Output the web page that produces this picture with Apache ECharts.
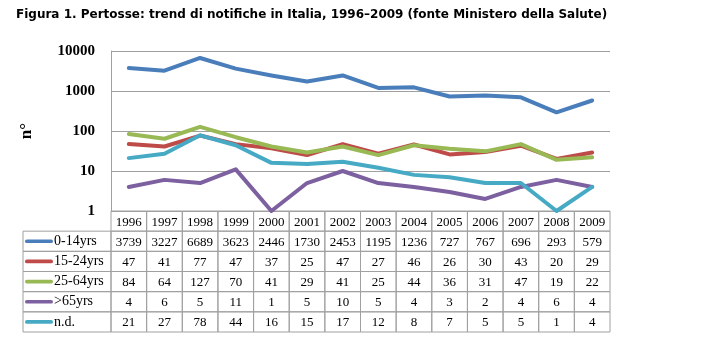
<!DOCTYPE html>
<html>
<head>
<meta charset="utf-8">
<script src="https://cdn.jsdelivr.net/npm/echarts@6/dist/echarts.min.js"></script>
<style>html,body{margin:0;padding:0;background:#fff}#c{width:723px;height:342px}</style>
</head>
<body>
<div id="c"></div>
<script>
const years = ['1996','1997','1998','1999','2000','2001','2002','2003','2004','2005','2006','2007','2008','2009'];
const s0_14 = [3739,3227,6689,3623,2446,1730,2453,1195,1236,727,767,696,293,579];
const s15_24 = [47,41,77,47,37,25,47,27,46,26,30,43,20,29];
const s25_64 = [84,64,127,70,41,29,41,25,44,36,31,47,19,22];
const s65 = [4,6,5,11,1,5,10,5,4,3,2,4,6,4];
const sND = [21,27,78,44,16,15,17,12,8,7,5,5,1,4];
const seriesNames = ['0-14yrs','15-24yrs','25-64yrs','>65yrs','n.d.'];
const seriesColors = ['#4a7ebb','#be4b48','#98b954','#7d60a0','#46aac5'];
const yMin = 1, yMax = 10000;

const allSeries = [s0_14, s15_24, s25_64, s65, sND];
const GRID_LEFT = 111, GRID_W = 499, LEGEND_LEFT = 23;
const TABLE_TOP = 211, TABLE_H = 121, ROW_H = TABLE_H / 6;
const SERIF = '"Liberation Serif", "Times New Roman", serif';

const tableData = [];
years.forEach((y, c) => tableData.push([c, 0, y]));
allSeries.forEach((arr, i) => arr.forEach((v, c) => tableData.push([c, i + 1, String(v)])));

const legends = seriesNames.map((name, i) => ({
  data: [name],
  orient: 'vertical',
  left: 25, top: TABLE_TOP + ROW_H * (i + 1) + ROW_H / 2 - 7, padding: 0,
  itemWidth: 28, itemHeight: 14,
  icon: 'path://M2,0 L28,0 A2,2 0 0 1 28,4 L2,4 A2,2 0 0 1 2,0 Z',
  textStyle: { fontFamily: SERIF, fontSize: 14, color: '#000', padding: [1, 0, 0, -4] }
}));

const chart = echarts.init(document.getElementById('c'));
chart.setOption({
  animation: false,
  title: {
    text: 'Figura 1. Pertosse: trend di notifiche in Italia, 1996\u20132009 (fonte Ministero della Salute)',
    left: 16, top: 9, padding: 0,
    textStyle: { fontFamily: '"DejaVu Sans", Verdana, sans-serif', fontWeight: 'bold', fontSize: 12, color: '#000' }
  },
  legend: legends,
  grid: [
    { left: GRID_LEFT, top: 51, width: GRID_W, height: 160 },
    { left: GRID_LEFT, top: TABLE_TOP, width: GRID_W, height: TABLE_H }
  ],
  xAxis: [
    { type: 'category', data: years, gridIndex: 0, boundaryGap: true,
      axisLine: { show: false }, axisTick: { show: false }, axisLabel: { show: false }, splitLine: { show: false } },
    { type: 'category', data: years, gridIndex: 1, boundaryGap: true, show: false }
  ],
  yAxis: [
    { type: 'log', logBase: 10, min: yMin, max: yMax, gridIndex: 0,
      name: 'n\u00b0', nameLocation: 'middle', nameGap: 76, nameRotate: 90,
      nameTextStyle: { fontFamily: SERIF, fontWeight: 'bold', fontSize: 17, color: '#000' },
      axisLine: { show: true, lineStyle: { color: '#a0a0a0', width: 1 } },
      axisTick: { show: false },
      axisLabel: { margin: 16, fontFamily: SERIF, fontWeight: 'bold', fontSize: 15, color: '#000',
        formatter: v => String(v) },
      splitLine: { show: true, lineStyle: { color: '#a0a0a0', width: 1.2 } } },
    { type: 'category', data: ['hdr'].concat(seriesNames), gridIndex: 1, inverse: true, show: false }
  ],
  series: seriesNames.map((name, i) => ({
    name: name, type: 'line', data: allSeries[i], xAxisIndex: 0, yAxisIndex: 0,
    symbol: 'none', showSymbol: false,
    lineStyle: { color: seriesColors[i], width: 4, cap: 'round', join: 'round' },
    itemStyle: { color: seriesColors[i] }
  })).concat([{
    type: 'custom', xAxisIndex: 1, yAxisIndex: 1, data: tableData, silent: true,
    renderItem: function (params, api) {
      const c = api.value(0), r = api.value(1);
      const label = tableData[params.dataIndex][2];
      const p = api.coord([c, r]);
      const sz = api.size([1, 1]);
      const w = sz[0], h = sz[1];
      const x0 = p[0] - w / 2, y0 = p[1] - h / 2;
      const children = [
        { type: 'rect', shape: { x: x0, y: y0, width: w, height: h },
          style: { fill: 'none', stroke: '#a0a0a0', lineWidth: 1 } },
        { type: 'text', style: { text: label, x: p[0], y: p[1] + 1, align: 'center', verticalAlign: 'middle',
          font: '13px ' + SERIF, fill: '#000' } }
      ];
      if (c === 0 && r > 0) {
        children.push({ type: 'rect', shape: { x: LEGEND_LEFT, y: y0, width: x0 - LEGEND_LEFT, height: h },
          style: { fill: 'none', stroke: '#a0a0a0', lineWidth: 1 } });
      }
      return { type: 'group', children: children };
    }
  }])
});
</script>
</body>
</html>
